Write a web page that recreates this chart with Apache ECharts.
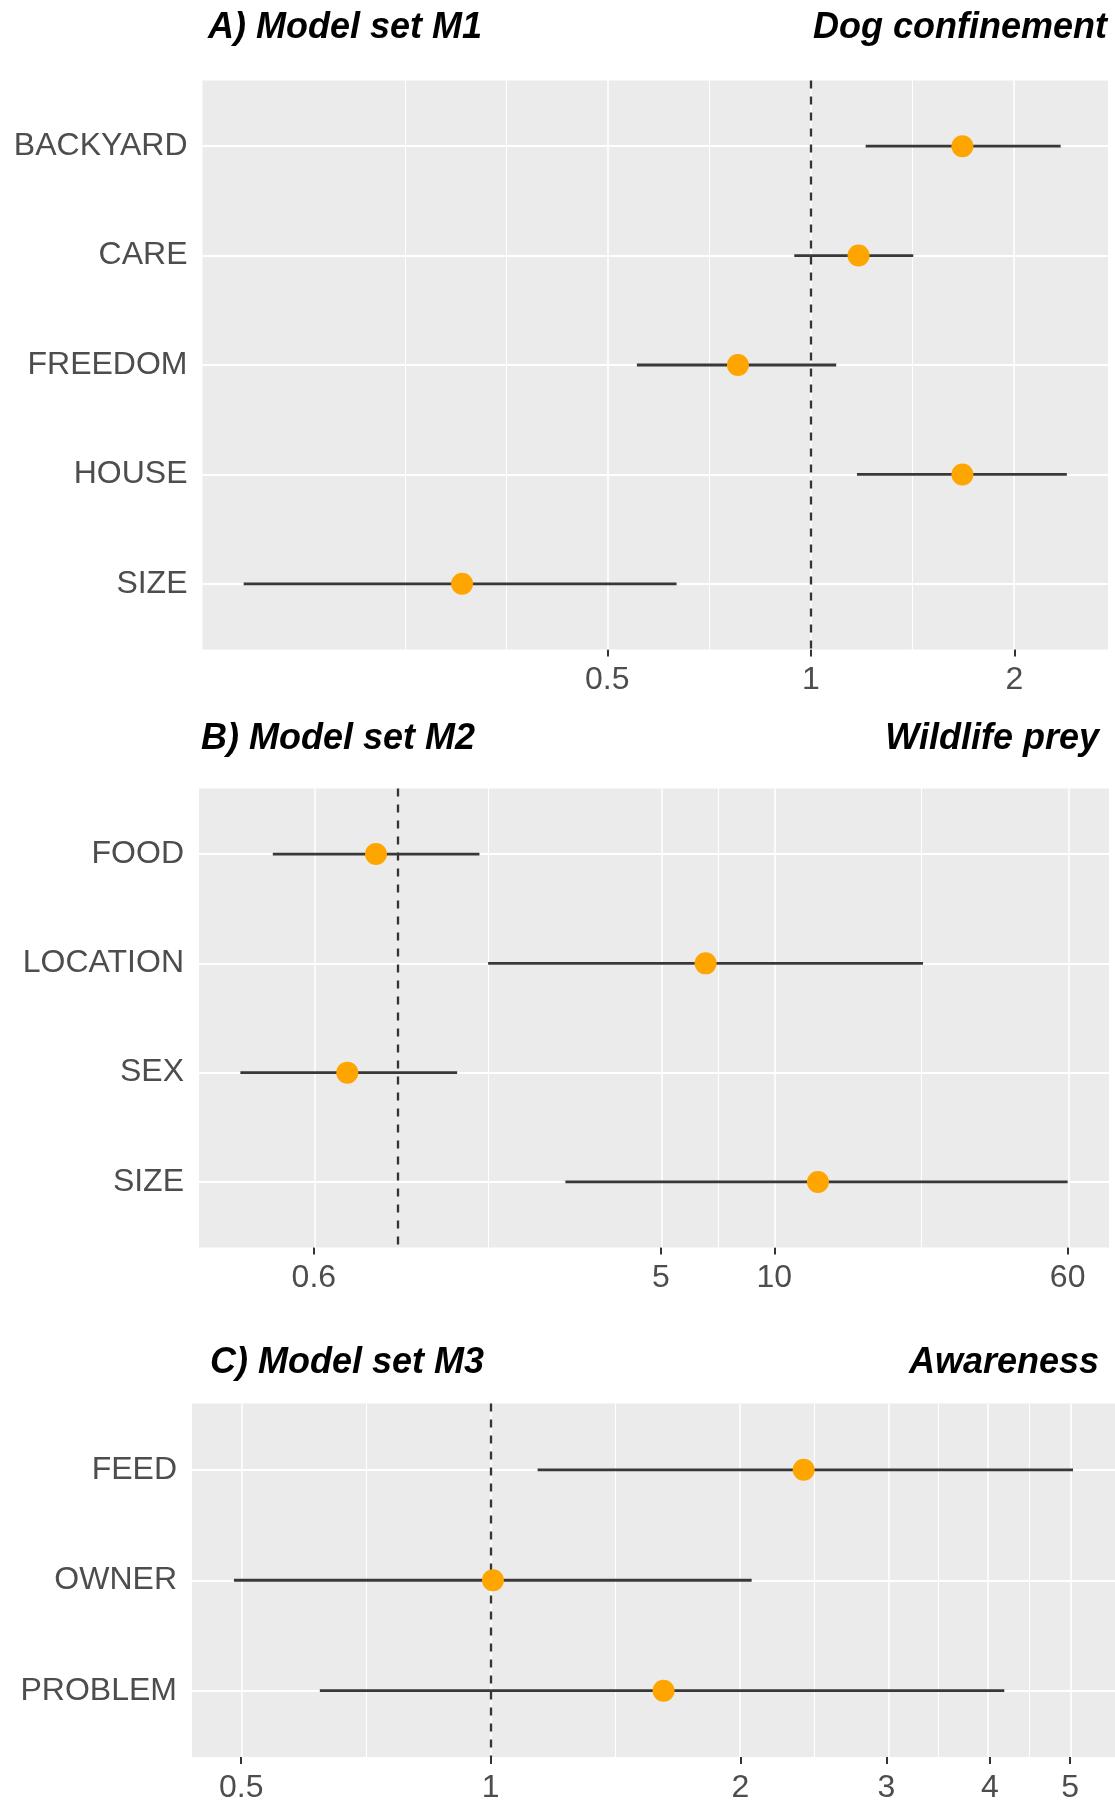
<!DOCTYPE html>
<html>
<head>
<meta charset="utf-8">
<script src="https://cdn.jsdelivr.net/npm/echarts@6/dist/echarts.min.js"></script>
<style>
html,body{margin:0;padding:0;background:#fff;}
#chart{width:1115px;height:1804px;}
</style>
</head>
<body>
<div id="chart"></div>
<script>
// ---- Panel A: Dog confinement ----
var catsA = ['BACKYARD', 'CARE', 'FREEDOM', 'HOUSE', 'SIZE'];
var estA  = [1.675, 1.176, 0.78, 1.675, 0.305];
var lowA  = [1.205, 0.945, 0.553, 1.17, 0.145];
var highA = [2.34, 1.417, 1.09, 2.39, 0.633];
var ticksA = [0.5, 1, 2];
var tickLabelsA = ['0.5', '1', '2'];

// ---- Panel B: Wildlife prey ----
var catsB = ['FOOD', 'LOCATION', 'SEX', 'SIZE'];
var estB  = [0.877, 6.57, 0.736, 13.05];
var lowB  = [0.467, 1.74, 0.383, 2.79];
var highB = [1.65, 24.8, 1.44, 60];
var ticksB = [0.6, 5, 10, 60];
var tickLabelsB = ['0.6', '5', '10', '60'];

// ---- Panel C: Awareness ----
var catsC = ['FEED', 'OWNER', 'PROBLEM'];
var estC  = [2.385, 1.006, 1.616];
var lowC  = [1.139, 0.490, 0.622];
var highC = [5.04, 2.064, 4.164];
var ticksC = [0.5, 1, 2, 3, 4, 5];
var tickLabelsC = ['0.5', '1', '2', '3', '4', '5'];

var titlesLeft  = ['A) Model set M1', 'B) Model set M2', 'C) Model set M3'];
var titlesRight = ['Dog confinement', 'Wildlife prey', 'Awareness'];
var refValue = 1;

var panels = [
  {cats: catsA, est: estA, low: lowA, high: highA, ticks: ticksA, labels: tickLabelsA,
   grid: {left: 202.5, top: 80.5, width: 905.5, height: 569},
   tl: {left: 208, top: 10.5}, tr: {right: 8, top: 10.5}},
  {cats: catsB, est: estB, low: lowB, high: highB, ticks: ticksB, labels: tickLabelsB,
   grid: {left: 199, top: 788.5, width: 910, height: 459},
   tl: {left: 201, top: 721.5}, tr: {right: 16, top: 721.5}},
  {cats: catsC, est: estC, low: lowC, high: highC, ticks: ticksC, labels: tickLabelsC,
   grid: {left: 192, top: 1403.5, width: 924, height: 357.5},
   tl: {left: 210, top: 1345}, tr: {right: 16, top: 1345}}
];

var L = Math.log10;
var FONT = "'Liberation Sans', Arial, Helvetica, sans-serif";

var option = {
  animation: false,
  backgroundColor: '#ffffff',
  title: [], grid: [], xAxis: [], yAxis: [], series: []
};

panels.forEach(function (p, k) {
  // ggplot-like limits: data range on log scale, expanded by 5%
  var lo = Math.min.apply(null, p.low.map(L));
  var hi = Math.max.apply(null, p.high.map(L));
  var ex = (hi - lo) * 0.05;
  var xmin = lo - ex, xmax = hi + ex;
  var n = p.cats.length;

  // major + minor grid lines (ggplot regular_minor_breaks in log space)
  var b = p.ticks.map(L);
  var bd = b[1] - b[0];
  var bb = b.slice();
  if (xmin < bb[0]) bb.unshift(bb[0] - bd);
  if (xmax > bb[bb.length - 1]) bb.push(bb[bb.length - 1] + bd);
  var minors = [];
  for (var i = 0; i < bb.length; i++) {
    if (b.indexOf(bb[i]) < 0) minors.push(bb[i]);
    if (i < bb.length - 1) minors.push((bb[i] + bb[i + 1]) / 2);
  }
  minors = minors.filter(function (v) { return v > xmin && v < xmax; });

  var tStyle = {fontFamily: FONT, fontSize: 36, fontWeight: 'bold', fontStyle: 'italic', color: '#000'};
  option.title.push({text: titlesLeft[k], left: p.tl.left, top: p.tl.top, padding: 0, textStyle: tStyle});
  option.title.push({text: titlesRight[k], right: p.tr.right, top: p.tr.top, padding: 0, textStyle: tStyle});

  option.grid.push({
    left: p.grid.left, top: p.grid.top, width: p.grid.width, height: p.grid.height,
    show: true, backgroundColor: '#EBEBEB', borderWidth: 0, containLabel: false
  });

  var labels = p.labels, tv = b;
  option.xAxis.push({
    type: 'value', gridIndex: k, min: xmin, max: xmax,
    axisLine: {show: false},
    splitLine: {show: false},
    axisTick: {show: true, length: 7, customValues: tv, lineStyle: {color: '#333333', width: 2}},
    axisLabel: {
      show: true, customValues: tv, margin: 15,
      fontFamily: FONT, fontSize: 32, color: '#4D4D4D',
      formatter: function (v) {
        for (var j = 0; j < tv.length; j++) if (Math.abs(tv[j] - v) < 1e-6) return labels[j];
        return '';
      }
    }
  });

  var yv = p.cats.map(function (c, j) { return j + 1; });
  var cats = p.cats;
  option.yAxis.push({
    type: 'value', gridIndex: k, min: 0.4, max: n + 0.6, inverse: true,
    axisLine: {show: false},
    splitLine: {show: false},
    axisTick: {show: true, length: 7, customValues: yv, lineStyle: {color: '#333333', width: 2}},
    axisLabel: {
      show: true, customValues: yv, margin: 15, padding: [7, 0, 0, 0],
      fontFamily: FONT, fontSize: 32, color: '#4D4D4D',
      formatter: function (v) { return cats[Math.round(v) - 1] || ''; }
    }
  });

  // grid lines
  var gl = [];
  b.forEach(function (v) { if (v > xmin && v < xmax) gl.push({xAxis: v, lineStyle: {width: 1.6}}); });
  minors.forEach(function (v) { gl.push({xAxis: v, lineStyle: {width: 1.1}}); });
  yv.forEach(function (v) { gl.push({yAxis: v, lineStyle: {width: 1.8}}); });
  option.series.push({
    type: 'line', xAxisIndex: k, yAxisIndex: k, data: [], z: 1, silent: true,
    markLine: {
      silent: true, symbol: 'none', animation: false, z: 1,
      label: {show: false},
      lineStyle: {color: '#FFFFFF', type: 'solid', width: 1.2},
      data: gl
    }
  });

  // reference dashed line at 1
  option.series.push({
    type: 'line', xAxisIndex: k, yAxisIndex: k, data: [], z: 2, silent: true,
    markLine: {
      silent: true, symbol: 'none', animation: false, z: 2,
      label: {show: false},
      lineStyle: {color: '#333333', type: [8, 8], width: 2.3},
      data: [{xAxis: L(refValue)}]
    }
  });

  // error bars
  option.series.push({
    type: 'custom', xAxisIndex: k, yAxisIndex: k, z: 3, silent: true,
    data: p.cats.map(function (c, j) { return [L(p.low[j]), L(p.high[j]), j + 1]; }),
    encode: {x: [0, 1], y: 2},
    renderItem: function (params, api) {
      var y = api.value(2);
      var a = api.coord([api.value(0), y]);
      var c = api.coord([api.value(1), y]);
      return {
        type: 'line',
        shape: {x1: a[0], y1: a[1], x2: c[0], y2: c[1]},
        style: {stroke: '#383838', lineWidth: 2.8}
      };
    }
  });

  // point estimates
  option.series.push({
    type: 'scatter', xAxisIndex: k, yAxisIndex: k, z: 4, silent: true,
    symbol: 'circle', symbolSize: 22,
    itemStyle: {color: '#FFA500', opacity: 1},
    data: p.cats.map(function (c, j) { return [L(p.est[j]), j + 1]; })
  });
});

var chart = echarts.init(document.getElementById('chart'), null, {renderer: 'canvas'});
chart.setOption(option);
</script>
</body>
</html>
